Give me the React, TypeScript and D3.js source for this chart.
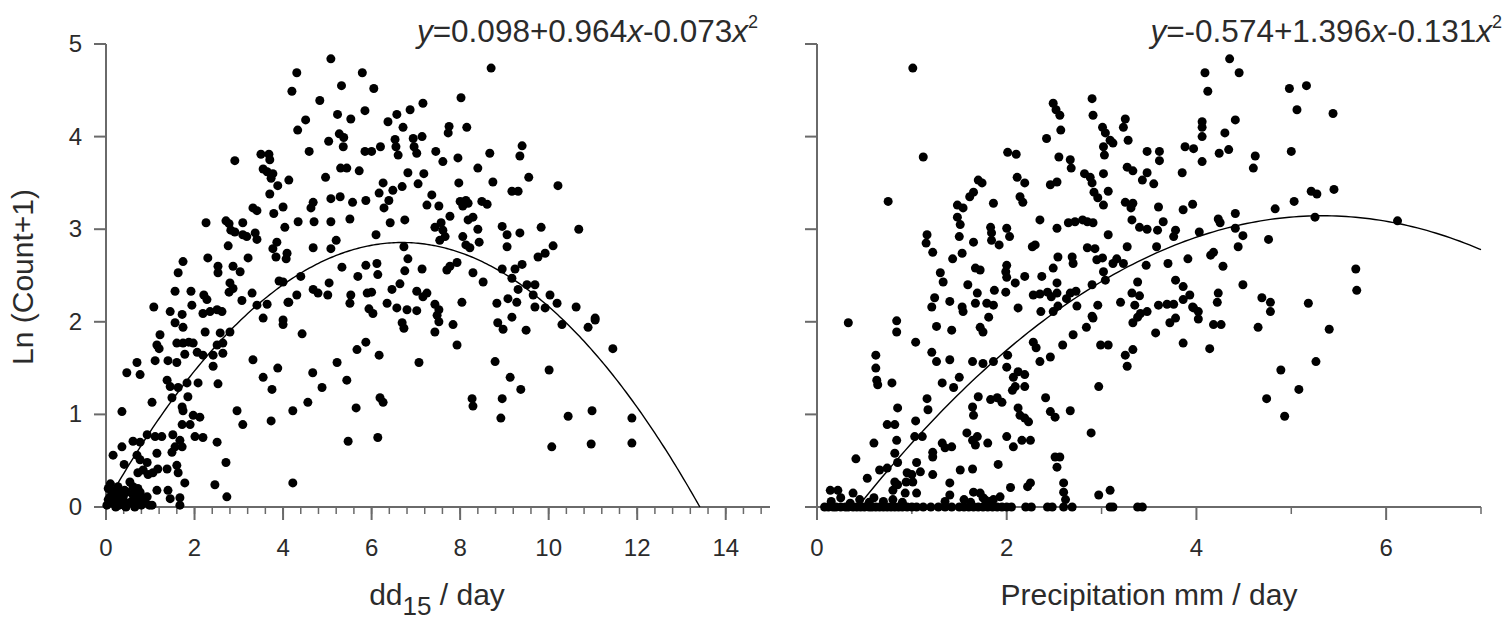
import React from 'react';
import * as d3 from 'd3';

// dd15 (degree days above 15) vs Ln(Count+1)
const dd15Points = [
  [5.08, 4.84], [4.31, 4.69], [4.20, 4.49], [5.79, 4.69], [5.32, 4.55], [6.05, 4.52], [4.83, 4.39], [4.51, 4.18],
  [4.33, 4.07], [5.23, 4.24], [5.53, 4.19], [5.85, 4.28], [5.03, 3.95], [5.27, 4.03], [5.36, 3.89], [5.37, 3.99],
  [5.85, 3.84], [6.0, 3.84], [4.59, 3.84], [5.30, 3.66], [5.44, 3.66], [5.72, 3.63], [4.96, 3.56], [2.91, 3.74],
  [3.50, 3.81], [3.68, 3.81], [3.70, 3.75], [3.55, 3.65], [3.64, 3.62], [3.77, 3.60], [3.73, 3.55], [3.88, 3.47],
  [4.13, 3.53], [3.70, 3.38], [4.00, 3.24], [3.79, 3.17], [4.04, 3.02], [3.32, 3.23], [3.41, 3.20], [4.68, 3.29],
  [4.63, 3.23], [5.08, 3.33], [5.29, 3.35], [5.57, 3.29], [5.87, 3.31], [6.17, 3.39], [2.26, 3.07], [2.71, 3.09],
  [2.78, 3.06], [3.09, 3.07], [2.82, 2.99], [2.91, 2.97], [3.09, 2.94], [3.18, 2.92], [3.37, 2.96], [3.41, 2.89],
  [4.34, 3.08], [4.70, 3.08], [5.08, 3.08], [5.51, 3.11], [5.20, 2.88], [5.08, 2.79], [4.68, 2.80], [3.86, 2.86],
  [3.77, 2.79], [3.84, 2.70], [4.09, 2.74], [4.07, 2.68], [6.10, 2.94], [2.76, 2.82], [2.30, 2.69], [2.53, 2.60],
  [2.53, 2.53], [2.87, 2.60], [3.03, 2.54], [3.21, 2.69], [1.74, 2.65], [1.63, 2.53], [1.56, 2.33], [1.92, 2.33],
  [2.80, 2.42], [2.87, 2.36], [2.78, 2.32], [3.30, 2.31], [3.07, 2.23], [2.21, 2.29], [2.28, 2.24], [1.94, 2.18],
  [1.08, 2.16], [1.45, 2.11], [1.72, 2.08], [2.19, 2.09], [2.35, 2.11], [2.51, 2.13], [2.62, 2.11], [3.41, 2.18],
  [3.64, 2.19], [3.91, 2.44], [4.0, 2.43], [4.40, 2.49], [4.31, 2.29], [4.13, 2.21], [4.68, 2.35], [4.79, 2.31],
  [5.01, 2.29], [5.04, 2.42], [5.33, 2.59], [5.69, 2.49], [5.87, 2.61], [6.12, 2.63], [6.14, 2.51], [5.53, 2.29],
  [5.51, 2.20], [5.90, 2.31], [6.0, 2.32], [5.94, 2.14], [6.03, 2.09], [6.2, 3.89],
  [8.70, 4.74], [8.02, 4.42], [7.16, 4.36], [6.87, 4.29], [6.57, 4.24], [6.37, 4.16], [6.71, 4.10], [7.75, 4.11],
  [7.73, 4.04], [8.15, 4.10], [6.53, 3.97], [6.55, 3.89], [6.60, 3.80], [6.94, 3.98], [7.14, 4.00], [6.96, 3.89],
  [7.02, 3.82], [7.45, 3.84], [7.61, 3.73], [7.95, 3.77], [8.67, 3.82], [9.40, 3.90], [9.35, 3.79], [8.40, 3.66],
  [6.82, 3.61], [7.18, 3.60], [9.55, 3.56], [8.74, 3.51], [10.21, 3.47], [7.97, 3.50], [6.26, 3.50], [6.48, 3.42],
  [6.69, 3.46], [7.05, 3.49], [6.39, 3.31], [6.28, 3.23], [7.36, 3.37], [7.25, 3.26], [7.52, 3.25], [8.0, 3.30],
  [8.13, 3.31], [8.06, 3.25], [8.18, 3.28], [8.49, 3.30], [8.61, 3.27], [9.17, 3.41], [9.31, 3.41], [7.77, 3.14],
  [7.57, 3.07], [7.43, 3.02], [7.61, 2.99], [7.66, 2.92], [7.54, 2.88], [8.18, 3.10], [8.29, 3.13], [8.40, 3.0],
  [8.43, 2.86], [8.06, 2.92], [8.13, 2.83], [8.22, 2.80], [6.42, 3.07], [6.75, 3.10], [8.95, 3.03], [9.06, 2.94],
  [9.06, 2.81], [9.35, 2.96], [9.83, 3.02], [10.68, 3.0], [6.73, 2.81], [6.82, 2.68], [6.75, 2.55], [7.14, 2.57],
  [7.77, 2.60], [7.70, 2.56], [7.93, 2.64], [8.29, 2.53], [8.52, 2.43], [8.95, 2.57], [9.17, 2.47], [9.24, 2.57],
  [9.40, 2.62], [9.76, 2.70], [9.92, 2.74], [10.10, 2.82], [6.64, 2.41], [6.46, 2.35], [7.02, 2.33], [7.16, 2.27],
  [7.25, 2.31], [6.35, 2.20], [6.57, 2.15], [6.80, 2.13], [7.02, 2.12], [7.43, 2.19], [7.52, 2.13], [8.04, 2.21],
  [8.83, 2.20], [9.08, 2.25], [9.28, 2.21], [9.31, 2.35], [9.51, 2.40], [9.69, 2.40], [9.65, 2.29], [9.69, 2.16],
  [9.92, 2.15], [10.03, 2.29], [10.19, 2.20], [10.62, 2.16], [11.05, 2.04],
  [1.56, 1.99], [1.74, 1.94], [2.24, 1.89], [2.80, 1.89], [2.58, 1.88], [1.22, 1.86], [1.15, 1.75], [1.20, 1.71],
  [1.60, 1.77], [1.74, 1.77], [1.87, 1.78], [1.97, 1.77], [2.06, 1.67], [2.19, 1.64], [1.78, 1.65], [2.42, 1.64],
  [2.64, 1.66], [2.51, 1.75], [2.64, 1.77], [1.11, 1.58], [1.40, 1.58], [1.60, 1.56], [2.42, 1.52], [0.70, 1.56],
  [0.77, 1.43], [0.47, 1.45], [1.38, 1.37], [1.45, 1.30], [1.63, 1.29], [1.83, 1.34], [2.08, 1.34], [2.53, 1.33],
  [1.85, 1.19], [1.72, 1.08], [1.74, 1.04], [1.49, 1.18], [1.04, 1.13], [0.36, 1.03], [1.97, 0.99], [2.12, 0.97],
  [1.72, 0.89], [1.90, 0.89], [2.96, 1.04], [3.09, 0.89], [3.32, 1.59], [3.55, 1.40], [3.75, 1.27], [3.88, 1.50],
  [3.73, 0.93], [4.22, 1.04], [4.43, 1.87], [4.0, 2.02], [4.0, 1.97], [3.55, 2.04], [4.11, 2.21], [4.67, 1.45],
  [4.88, 1.29], [4.56, 1.13], [5.22, 1.56], [5.44, 1.37], [5.65, 1.07], [5.47, 0.71], [6.14, 0.75], [5.67, 1.70],
  [5.87, 1.78], [6.19, 1.18], [6.17, 1.64], [4.22, 0.26], [2.46, 0.24], [2.73, 0.11], [2.71, 0.48], [2.51, 0.70],
  [2.01, 0.76], [2.19, 0.75], [1.78, 0.26],
  [0.16, 0.56], [0.36, 0.65], [0.41, 0.46], [0.61, 0.71], [0.77, 0.70], [0.93, 0.78], [1.11, 0.76], [1.26, 0.76],
  [1.51, 0.78], [1.56, 0.65], [1.49, 0.59], [1.67, 0.72], [1.72, 0.65], [0.70, 0.56], [0.77, 0.51], [0.93, 0.48],
  [0.84, 0.40], [0.72, 0.37], [0.95, 0.35], [1.06, 0.37], [1.15, 0.58], [1.17, 0.41], [1.38, 0.41], [1.60, 0.45],
  [1.63, 0.37], [1.15, 0.18], [1.40, 0.18], [1.45, 0.09], [1.67, 0.10], [1.67, 0.02],
  [0.02, 0.02], [0.05, 0.08], [0.09, 0.11], [0.1, 0.25], [0.16, 0.04], [0.2, 0.15], [0.27, 0.22], [0.27, 0.11],
  [0.3, 0.02], [0.35, 0.08], [0.39, 0.11], [0.42, 0.18], [0.47, 0.16], [0.5, 0.04], [0.54, 0.27], [0.58, 0.06],
  [0.61, 0.22], [0.64, 0.1], [0.7, 0.04], [0.77, 0.16], [0.8, 0.02], [0.84, 0.1], [0.93, 0.11], [0.98, 0.02],
  [1.04, 0.02], [0.12, 0.18], [0.22, 0.0], [0.45, 0.0], [0.65, 0.0], [0.15, 0.13], [0.33, 0.16], [0.05, 0.2],
  [0.4, 0.05], [0.6, 0.14], [0.72, 0.2], [0.87, 0.05], [0.25, 0.06], [0.68, 0.1],
  [7.48, 2.07], [7.52, 2.0], [7.43, 1.89], [7.84, 1.97], [7.93, 1.75], [6.69, 1.99], [6.73, 1.93], [7.07, 1.56],
  [6.26, 1.13], [8.27, 1.17], [8.29, 1.09], [8.79, 1.57], [9.13, 1.40], [9.37, 1.27], [8.95, 1.17], [8.92, 0.96],
  [8.85, 1.99], [8.97, 1.92], [9.17, 2.05], [9.49, 1.91], [10.30, 1.97], [10.89, 1.94], [11.05, 2.02], [10.01, 1.48],
  [11.45, 1.71], [10.44, 0.98], [10.98, 1.04], [10.07, 0.65], [10.96, 0.68], [11.88, 0.96], [11.88, 0.69]
];

// precipitation (mm / day) vs Ln(Count+1)
const precipPoints = [
  [1.01, 4.74], [1.12, 3.78], [0.75, 3.30], [1.16, 2.94], [1.15, 2.85], [1.22, 2.75], [1.30, 2.53], [1.33, 2.43],
  [1.43, 2.68], [1.53, 2.74], [1.48, 3.26], [1.54, 3.23], [1.48, 3.13], [1.51, 3.05], [1.50, 2.92], [1.61, 3.35],
  [1.65, 3.40], [1.70, 3.53], [1.74, 3.50], [1.65, 2.86], [1.67, 2.58], [1.72, 2.56], [1.24, 2.26], [1.40, 2.22],
  [1.21, 2.16], [1.53, 2.16], [1.54, 2.11], [1.59, 2.40], [1.69, 2.31], [1.67, 2.20], [1.79, 2.20], [1.86, 2.18],
  [1.81, 2.05], [1.86, 3.28], [1.83, 3.02], [1.84, 2.96], [1.84, 2.88], [1.92, 2.83], [2.0, 3.01], [2.03, 2.92],
  [1.87, 2.34], [2.0, 2.61], [1.99, 2.54], [2.0, 2.48], [2.09, 2.42], [1.99, 2.32], [2.12, 2.15], [2.01, 3.83],
  [2.10, 3.81], [2.11, 3.56], [2.19, 3.50], [2.14, 3.35], [2.17, 3.29], [2.19, 2.49], [2.27, 2.81], [2.30, 2.83],
  [2.28, 2.29], [2.35, 2.30], [2.43, 2.32], [2.47, 2.27], [2.53, 2.31], [2.37, 2.49], [2.36, 2.11], [2.49, 2.58],
  [2.46, 3.48], [2.53, 3.51], [2.35, 3.10], [2.42, 3.98], [2.49, 4.36], [2.52, 4.29], [2.56, 4.23], [2.57, 4.07],
  [2.55, 3.78], [2.67, 3.75], [2.68, 3.66], [2.53, 3.01], [2.65, 3.07], [2.72, 3.08], [2.80, 3.10], [2.85, 3.08],
  [2.91, 3.07], [2.54, 2.70], [2.69, 2.70], [2.70, 2.63], [2.53, 2.42], [2.63, 2.25], [2.67, 2.31], [2.73, 2.33],
  [2.74, 2.17], [2.54, 2.17], [2.49, 2.11], [2.82, 3.60], [2.88, 3.56], [2.90, 3.50], [2.92, 3.40], [2.96, 3.34],
  [3.02, 3.26], [3.02, 3.60], [3.07, 3.41], [2.90, 4.41], [2.91, 4.23], [3.01, 4.10], [3.04, 4.04], [3.09, 3.96],
  [3.12, 3.93], [3.02, 3.89], [3.03, 3.80], [3.07, 2.94], [2.85, 2.80], [2.93, 2.79], [2.95, 2.67], [3.01, 2.69],
  [2.90, 2.40], [3.02, 2.54], [3.04, 2.45], [3.12, 2.63], [3.16, 2.68], [2.96, 2.18], [2.90, 2.06], [3.20, 2.21],
  [3.23, 4.10], [3.25, 4.19], [3.28, 3.96], [3.27, 3.67], [3.33, 3.63], [3.25, 3.29], [3.33, 3.28], [3.31, 3.23],
  [3.32, 3.10], [3.40, 3.02], [3.48, 3.0], [3.27, 2.81], [3.23, 2.63], [3.38, 2.43], [3.32, 2.31], [3.40, 2.28],
  [3.35, 2.18], [3.41, 2.09], [3.48, 2.11], [3.43, 3.53], [3.48, 3.61], [3.48, 3.84], [3.47, 2.61],
  [4.35, 4.84], [4.09, 4.69], [4.45, 4.69], [4.12, 4.49], [4.98, 4.52], [5.16, 4.55], [5.06, 4.29], [5.44, 4.25],
  [4.06, 4.16], [4.06, 4.10], [4.06, 4.0], [4.41, 4.18], [4.30, 4.04], [3.88, 3.89], [3.97, 3.87], [4.06, 3.73],
  [4.24, 3.82], [4.34, 3.86], [3.61, 3.84], [3.61, 3.74], [3.85, 3.61], [4.62, 3.79], [4.60, 3.66], [5.0, 3.84],
  [3.55, 3.49], [3.60, 3.24], [3.86, 3.21], [3.96, 3.27], [4.83, 3.22], [5.03, 3.30], [5.21, 3.41], [5.27, 3.38],
  [5.45, 3.43], [5.25, 3.13], [6.12, 3.09], [4.41, 3.17], [4.23, 3.11], [4.25, 3.07], [3.65, 3.08], [3.59, 2.99],
  [3.76, 2.92], [3.78, 2.99], [4.03, 2.97], [4.41, 3.01], [4.49, 2.93], [4.44, 2.81], [4.76, 2.89], [3.58, 2.81],
  [4.15, 2.72], [4.18, 2.75], [4.28, 2.60], [3.70, 2.63], [3.91, 2.68], [3.78, 2.45], [3.86, 2.38], [3.93, 2.29],
  [3.86, 2.24], [4.49, 2.40], [4.23, 2.31], [4.22, 2.21], [4.69, 2.26], [4.78, 2.21], [4.78, 2.11], [5.18, 2.20],
  [5.68, 2.57], [5.69, 2.34], [3.60, 2.18], [3.69, 2.19], [3.76, 2.19], [3.96, 2.16], [4.02, 2.11],
  [3.57, 1.88], [3.72, 1.99], [3.78, 2.04], [3.86, 1.77], [4.02, 2.03], [3.97, 2.15], [4.14, 1.71], [4.18, 1.97],
  [4.26, 1.97], [4.65, 1.94], [5.40, 1.92], [4.89, 1.48], [5.26, 1.57], [5.08, 1.27], [4.74, 1.17], [4.93, 0.98],
  [0.33, 1.99], [0.84, 2.01], [0.84, 1.89], [1.04, 1.78], [1.26, 1.95], [1.42, 1.91], [1.72, 1.94], [1.75, 1.89],
  [0.62, 1.64], [0.62, 1.50], [0.63, 1.37], [0.64, 1.32], [0.79, 1.34], [1.21, 1.67], [1.26, 1.57], [1.40, 1.59],
  [1.64, 1.57], [1.75, 1.55], [1.86, 1.57], [2.01, 1.64], [2.0, 1.51], [2.28, 1.78], [2.31, 1.72], [2.35, 1.57],
  [2.46, 1.62], [2.59, 1.75], [2.70, 1.86], [2.84, 1.94], [2.91, 2.04], [2.99, 1.75], [3.07, 1.75], [3.25, 1.64],
  [3.27, 1.52], [3.33, 1.70], [3.33, 1.99], [3.38, 2.05],
  [1.50, 1.40], [1.44, 1.29], [1.32, 1.34], [1.70, 1.19], [1.83, 1.16], [1.90, 1.18], [1.95, 1.13], [1.64, 1.08],
  [1.65, 0.99], [2.07, 1.40], [2.09, 1.30], [2.12, 1.46], [2.19, 1.43], [2.19, 1.30], [2.06, 1.26], [2.12, 1.07],
  [2.14, 0.99], [2.19, 0.96], [2.23, 0.92], [2.41, 1.18], [2.46, 1.03], [2.51, 0.97], [2.67, 1.04], [2.97, 1.30],
  [2.89, 0.80], [1.16, 1.17], [1.04, 0.93], [1.17, 1.05], [0.85, 1.07], [0.74, 0.89], [0.82, 0.89], [0.60, 0.69],
  [0.41, 0.52], [0.53, 0.31], [0.84, 0.72], [0.82, 0.58], [0.85, 0.48], [1.03, 0.76], [1.11, 0.76], [0.66, 0.40],
  [0.74, 0.42], [1.22, 0.59], [1.22, 0.54], [1.22, 0.35], [1.32, 0.69], [1.35, 0.64], [1.42, 0.65], [1.58, 0.80],
  [1.64, 0.72], [1.69, 0.76], [1.67, 0.67], [1.80, 0.69], [1.91, 0.46], [2.0, 0.76], [2.07, 0.65], [2.16, 0.72],
  [2.25, 0.72], [1.05, 0.48], [1.09, 0.38], [0.95, 0.37], [1.0, 0.35], [0.94, 0.27], [1.01, 0.27], [0.82, 0.27],
  [0.85, 0.24], [0.80, 0.18], [0.93, 0.15], [1.05, 0.15], [1.40, 0.26], [1.40, 0.13], [1.51, 0.40], [1.64, 0.41],
  [1.65, 0.16], [1.72, 0.15], [1.77, 0.08], [1.86, 0.08], [1.93, 0.11], [2.04, 0.21], [2.22, 0.22], [2.25, 0.26],
  [2.51, 0.54], [2.56, 0.54], [2.53, 0.43], [2.60, 0.26], [2.60, 0.16], [2.62, 0.08], [2.97, 0.13], [3.09, 0.18],
  [0.14, 0.18], [0.22, 0.18], [0.38, 0.15],
  [0.15, 0.06], [0.25, 0.1], [0.35, 0.04], [0.45, 0.08], [0.55, 0.05], [0.6, 0.1], [0.7, 0.06], [0.8, 0.08],
  [0.9, 0.05], [1.35, 0.06], [1.55, 0.08], [1.62, 0.05], [1.75, 0.1], [1.82, 0.06],
  [0.08, 0], [0.12, 0], [0.17, 0], [0.2, 0], [0.25, 0], [0.3, 0], [0.33, 0], [0.38, 0], [0.42, 0], [0.46, 0],
  [0.5, 0], [0.55, 0], [0.58, 0], [0.62, 0], [0.66, 0], [0.7, 0], [0.74, 0], [0.78, 0], [0.82, 0], [0.86, 0],
  [0.9, 0], [0.95, 0], [1.0, 0], [1.05, 0], [1.12, 0], [1.2, 0], [1.28, 0], [1.35, 0], [1.42, 0], [1.5, 0],
  [1.55, 0], [1.6, 0], [1.65, 0], [1.7, 0], [1.75, 0], [1.8, 0], [1.85, 0], [1.9, 0], [1.95, 0], [2.0, 0],
  [2.05, 0], [2.2, 0], [2.26, 0], [2.43, 0], [2.48, 0], [2.6, 0], [2.69, 0], [3.09, 0], [3.12, 0], [3.38, 0],
  [3.43, 0]
];

// equations printed on the chart
const dd15FitLabel = ['0.098+0.964', '-0.073'];
const precipFitLabel = ['-0.574+1.396', '-0.131'];

// curves as drawn in the picture: a + b*x + c*x^2 (the left one is drawn flatter than its label)
const dd15Curve = [0.034, 0.844, -0.0631];
const precipCurve = [-0.574, 1.396, -0.131];

const yTicks = [0, 1, 2, 3, 4, 5];
const dd15Major = [0, 2, 4, 6, 8, 10, 12, 14];
const precipMajor = [0, 2, 4, 6];
const precipMinor = [1, 3, 5, 7];

const FONT = "Arial, 'Liberation Sans', sans-serif";
const AXIS = '#6a6a6a';
const INK = '#2b2b2b';

const drawPanel = (svg, p) => {
  const x = d3.scaleLinear().domain(p.xDomain).range(p.xRange);
  const y = d3.scaleLinear().domain([0, 5]).range([507, 44]);
  const g = svg.append('g');

  // y axis
  g.append('line')
    .attr('x1', x(0)).attr('x2', x(0)).attr('y1', y(5)).attr('y2', y(0) + 1)
    .attr('stroke', AXIS).attr('stroke-width', 2);
  g.selectAll('.yt').data(yTicks).enter().append('line')
    .attr('x1', x(0) - 12).attr('x2', x(0))
    .attr('y1', d => y(d)).attr('y2', d => y(d))
    .attr('stroke', AXIS).attr('stroke-width', 2);
  if (p.yLabels) {
    g.selectAll('.yl').data(yTicks).enter().append('text')
      .attr('x', x(0) - 24).attr('y', d => y(d) + 8)
      .attr('text-anchor', 'end')
      .attr('font-family', FONT).attr('font-size', 24).attr('fill', INK)
      .text(d => d);
  }

  // x axis
  g.append('line')
    .attr('x1', x(0) - 5).attr('x2', x(p.xDomain[1])).attr('y1', y(0)).attr('y2', y(0))
    .attr('stroke', AXIS).attr('stroke-width', 2);
  g.selectAll('.xm').data(p.minor).enter().append('line')
    .attr('x1', d => x(d)).attr('x2', d => x(d)).attr('y1', y(0)).attr('y2', y(0) + 7)
    .attr('stroke', AXIS).attr('stroke-width', 1.5);
  g.selectAll('.xM').data(p.major).enter().append('line')
    .attr('x1', d => x(d)).attr('x2', d => x(d)).attr('y1', y(0)).attr('y2', y(0) + 13)
    .attr('stroke', AXIS).attr('stroke-width', 2);
  g.selectAll('.xl').data(p.major).enter().append('text')
    .attr('x', d => x(d)).attr('y', 556)
    .attr('text-anchor', 'middle')
    .attr('font-family', FONT).attr('font-size', 24).attr('fill', INK)
    .text(d => d);

  // points
  g.selectAll('.pt').data(p.points).enter().append('circle')
    .attr('cx', d => x(d[0])).attr('cy', d => y(d[1])).attr('r', 4.5)
    .attr('fill', '#000');

  // fitted curve
  const f = v => p.curve[0] + p.curve[1] * v + p.curve[2] * v * v;
  const xs = d3.range(p.span[0], p.span[1], 0.05).concat([p.span[1]]);
  g.append('path')
    .datum(xs)
    .attr('fill', 'none').attr('stroke', '#000').attr('stroke-width', 1.4)
    .attr('d', d3.line().x(d => x(d)).y(d => y(Math.max(0, f(d)))));

  // equation
  const eq = g.append('text')
    .attr('x', p.eqX).attr('y', 42).attr('text-anchor', 'end')
    .attr('font-family', FONT).attr('font-size', 31.5).attr('fill', INK);
  eq.append('tspan').attr('font-style', 'italic').text('y');
  eq.append('tspan').text('=' + p.fitLabel[0]);
  eq.append('tspan').attr('font-style', 'italic').text('x');
  eq.append('tspan').text(p.fitLabel[1]);
  eq.append('tspan').attr('font-style', 'italic').text('x');
  eq.append('tspan').attr('font-size', 18).attr('dy', -14).text('2');
};

function Chart() {
  const ref = React.useRef(null);

  React.useEffect(() => {
    const svg = d3.select(ref.current);
    svg.selectAll('*').remove();

    // where the quadratic meets y = 0
    const rootHigh = (a, b, c) => (-b - Math.sqrt(b * b - 4 * a * c)) / (2 * c);
    const rootLow = (a, b, c) => (-b + Math.sqrt(b * b - 4 * a * c)) / (2 * c);

    drawPanel(svg, {
      xDomain: [0, 15], xRange: [106, 770], points: dd15Points, curve: dd15Curve,
      fitLabel: dd15FitLabel, span: [0, rootHigh(dd15Curve[0], dd15Curve[1], dd15Curve[2])],
      major: dd15Major, minor: d3.range(0, 15, 0.4), yLabels: true, eqX: 758
    });
    drawPanel(svg, {
      xDomain: [0, 7], xRange: [817, 1481], points: precipPoints, curve: precipCurve,
      fitLabel: precipFitLabel, span: [rootLow(precipCurve[0], precipCurve[1], precipCurve[2]), 7],
      major: precipMajor, minor: precipMinor, yLabels: false, eqX: 1502
    });

    // y title
    svg.append('text')
      .attr('transform', 'translate(33,277) rotate(-90)')
      .attr('text-anchor', 'middle')
      .attr('font-family', FONT).attr('font-size', 30).attr('fill', INK)
      .text('Ln (Count+1)');

    // x titles
    const t1 = svg.append('text')
      .attr('x', 437).attr('y', 605).attr('text-anchor', 'middle')
      .attr('font-family', FONT).attr('font-size', 30).attr('fill', INK);
    t1.append('tspan').text('dd');
    t1.append('tspan').attr('font-size', 26).attr('dy', 10).text('15');
    t1.append('tspan').attr('dy', -10).text(' / day');

    svg.append('text')
      .attr('x', 1149).attr('y', 605).attr('text-anchor', 'middle')
      .attr('font-family', FONT).attr('font-size', 30).attr('fill', INK)
      .text('Precipitation mm / day');
  }, []);

  return <svg ref={ref} width={1509} height={628} style={{ position: 'absolute', left: 0, top: 0, background: '#fff' }} />;
}

export default function App() {
  return <Chart />;
}
